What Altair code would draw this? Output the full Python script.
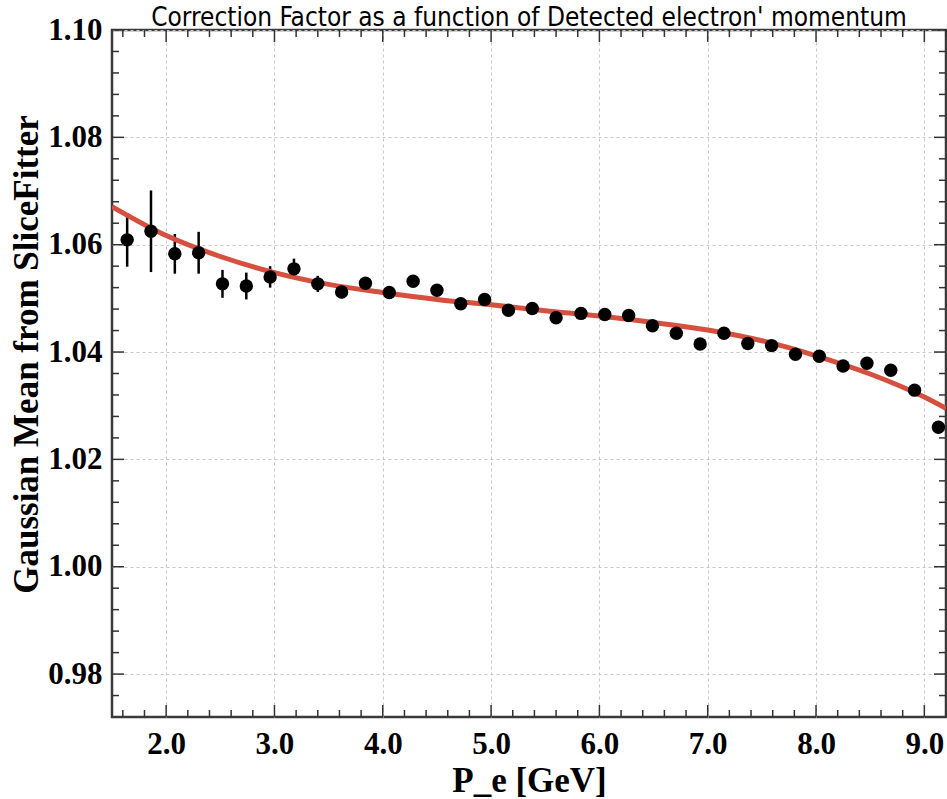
import altair as alt
import pandas as pd

# ---- data ----
p_e = [1.64, 1.86, 2.08, 2.30, 2.52, 2.74, 2.96, 3.18, 3.40, 3.62, 3.84, 4.06,
       4.28, 4.50, 4.72, 4.94, 5.16, 5.38, 5.60, 5.83, 6.05, 6.27, 6.49, 6.71,
       6.93, 7.15, 7.37, 7.59, 7.81, 8.03, 8.25, 8.47, 8.69, 8.91, 9.13]
mean = [1.0609, 1.0625, 1.0583, 1.0585, 1.0527, 1.0523, 1.0540, 1.0555, 1.0527,
        1.0512, 1.0528, 1.0511, 1.0532, 1.0515, 1.0490, 1.0498, 1.0478, 1.0481,
        1.0464, 1.0472, 1.0470, 1.0468, 1.0449, 1.0435, 1.0415, 1.0435, 1.0416,
        1.0412, 1.0396, 1.0392, 1.0374, 1.0379, 1.0366, 1.0329, 1.0260]
err = [0.0050, 0.0076, 0.0037, 0.0039, 0.0026, 0.0025, 0.0020, 0.0019, 0.0015,
       0.0012, 0.0011, 0.0011, 0.0010, 0.0010, 0.0009, 0.0009, 0.0008, 0.0008,
       0.0008, 0.0008, 0.0008, 0.0008, 0.0008, 0.0008, 0.0008, 0.0008, 0.0008,
       0.0008, 0.0008, 0.0008, 0.0008, 0.0008, 0.0008, 0.0008, 0.0008]

# fitted curve, every 0.5 GeV
fit_x = [1.5, 2.0, 2.5, 3.0, 3.5, 4.0, 4.5, 5.0, 5.5, 6.0, 6.5, 7.0, 7.5, 8.0,
         8.5, 9.0, 9.2]
fit_y = [1.0671, 1.0617, 1.0578, 1.0548, 1.0526, 1.0511, 1.0498, 1.0488, 1.0477,
         1.0467, 1.0455, 1.0441, 1.0421, 1.0393, 1.0359, 1.0316, 1.0295]

x_major = [2.0, 3.0, 4.0, 5.0, 6.0, 7.0, 8.0, 9.0]
x_minor = [1.6, 1.8, 2.2, 2.4, 2.6, 2.8, 3.2, 3.4, 3.6, 3.8, 4.2, 4.4, 4.6, 4.8,
           5.2, 5.4, 5.6, 5.8, 6.2, 6.4, 6.6, 6.8, 7.2, 7.4, 7.6, 7.8, 8.2, 8.4,
           8.6, 8.8, 9.2]
y_major = [0.98, 1.00, 1.02, 1.04, 1.06, 1.08, 1.10]
y_minor = [0.976, 0.984, 0.988, 0.992, 0.996, 1.004, 1.008, 1.012, 1.016,
           1.024, 1.028, 1.032, 1.036, 1.044, 1.048, 1.052, 1.056, 1.064,
           1.068, 1.072, 1.076, 1.084, 1.088, 1.092, 1.096]

W, H = 834, 687
XDOM = [1.5, 9.2]
YDOM = [0.972, 1.10]

df = pd.DataFrame({"x": p_e, "y": mean, "lo": [m - e for m, e in zip(mean, err)],
                   "hi": [m + e for m, e in zip(mean, err)]})
dfit = pd.DataFrame({"x": fit_x, "y": fit_y})

xs = alt.Scale(domain=XDOM, nice=False, zero=False)
ys = alt.Scale(domain=YDOM, nice=False, zero=False)

TICK_C = "#333333"

x_axis = alt.Axis(
    values=x_major, format=".1f", title="P_e [GeV]", grid=True, ticks=False,
    domain=False, labelPadding=12, titleY=74, titleBaseline="alphabetic")
y_axis = alt.Axis(
    values=y_major, format=".2f", title="Gaussian Mean from SliceFitter",
    grid=True, ticks=False, domain=False, labelPadding=10,
    titleAngle=270, titleX=-75, titleY=324, titleAlign="center",
    titleBaseline="alphabetic")


def X(field):
    return alt.X(field, scale=xs, axis=x_axis)


def Y(field):
    return alt.Y(field, scale=ys, axis=y_axis)


errbars = alt.Chart(df).mark_rule(color="black", strokeWidth=2.5).encode(
    x=X("x:Q"), y=Y("lo:Q"), y2="hi:Q",
)

fit = alt.Chart(dfit).mark_line(color="#d6503f", strokeWidth=5, interpolate="monotone",
                                clip=True).encode(
    x=X("x:Q"), y=Y("y:Q"),
)

points = alt.Chart(df).mark_circle(color="black", size=180, opacity=1).encode(
    x=X("x:Q"), y=Y("y:Q"),
)


def xticks(vals, length):
    d = pd.DataFrame({"v": vals})
    bottom = alt.Chart(d).mark_rule(color=TICK_C, strokeWidth=1.5).encode(
        x=X("v:Q"), y=alt.value(H), y2=alt.value(H - length))
    top = alt.Chart(d).mark_rule(color=TICK_C, strokeWidth=1.5).encode(
        x=X("v:Q"), y=alt.value(0), y2=alt.value(length))
    return [bottom, top]


def yticks(vals, length):
    d = pd.DataFrame({"v": vals})
    left = alt.Chart(d).mark_rule(color=TICK_C, strokeWidth=1.5).encode(
        y=Y("v:Q"), x=alt.value(0), x2=alt.value(length))
    right = alt.Chart(d).mark_rule(color=TICK_C, strokeWidth=1.5).encode(
        y=Y("v:Q"), x=alt.value(W), x2=alt.value(W - length))
    return [left, right]


layers = [errbars, fit, points] + xticks(x_major, 12) + xticks(x_minor, 7) + \
    yticks(y_major, 12) + yticks(y_minor, 7)

chart = alt.layer(*layers).properties(
    width=W, height=H,
    title=alt.TitleParams(
        "Correction Factor as a function of Detected electron' momentum",
        font="DejaVu Sans Condensed, Roboto, sans-serif", fontSize=26,
        fontWeight="normal", color="black", anchor="middle", frame="group",
        offset=-1, dy=16),
    autosize=alt.AutoSizeParams(type="none"),
    padding={"left": 112, "top": 30, "right": 1, "bottom": 82},
).configure_view(
    stroke="#3a3a3a", strokeWidth=2.5
).configure_axis(
    labelFont="Liberation Serif", labelFontWeight="bold", labelFontSize=31,
    labelColor="black", titleFont="Liberation Serif", titleFontWeight="bold",
    titleFontSize=35, titleColor="black",
    gridColor="#c8c8c8", gridDash=[3, 3], gridWidth=1,
)

chart.save("out.html", embed_options={"renderer": "svg", "actions": False})
